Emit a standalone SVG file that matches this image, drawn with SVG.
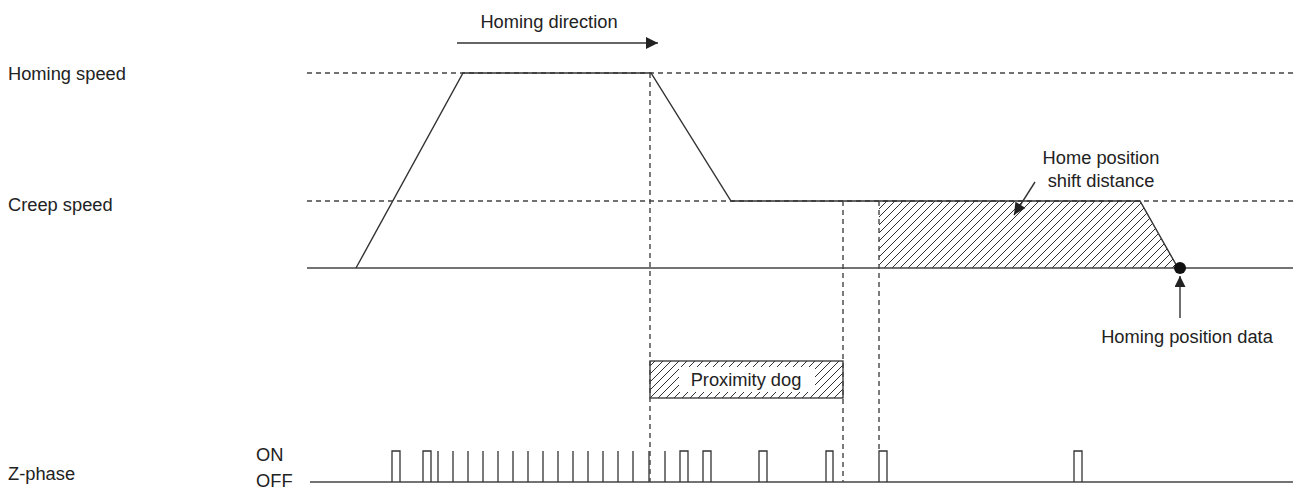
<svg xmlns="http://www.w3.org/2000/svg" width="1293" height="490" viewBox="0 0 1293 490">
<style>
text{font-family:"Liberation Sans",Arial,sans-serif;font-size:18.3px;fill:#222}
.ln{stroke:#333;stroke-width:1.4;fill:none}
.base{stroke:#444;stroke-width:1.6;fill:none}
.dash{stroke:#444;stroke-width:1.4;fill:none;stroke-dasharray:5 4}
.pulse{stroke:#333;stroke-width:1.3;fill:none}
</style>
<defs>
<pattern id="hatch" patternUnits="userSpaceOnUse" width="8" height="8">
<path d="M-2,2 L2,-2 M0,8 L8,0 M6,10 L10,6" stroke="#333" stroke-width="1"/>
</pattern>
<marker id="arr" viewBox="0 0 10 10" refX="10" refY="5" markerWidth="12" markerHeight="11" markerUnits="userSpaceOnUse" orient="auto">
<path d="M0,0 L10,5 L0,10 Z" fill="#222"/>
</marker>
<marker id="arr2" viewBox="0 0 10 10" refX="10" refY="5" markerWidth="14" markerHeight="12" markerUnits="userSpaceOnUse" orient="auto">
<path d="M0,0 L10,5 L0,10 Z" fill="#222"/>
</marker>
</defs>

<g id="labels">
<text x="8" y="80">Homing speed</text>
<text x="8" y="211">Creep speed</text>
<text x="8" y="480">Z-phase</text>
<text x="256" y="461">ON</text>
<text x="256" y="487">OFF</text>
</g>

<g id="homing-direction">
<text x="549" y="28" text-anchor="middle">Homing direction</text>
</g>

<g id="guides">
<line class="dash" x1="307" y1="73" x2="1293" y2="73"/>
<line class="dash" x1="307" y1="201" x2="1293" y2="201"/>
</g>

<g id="shift-area">
<polygon points="879,201 1140,201 1178,268 879,268" fill="url(#hatch)"/>
</g>

<g id="speed-profile">
<line class="base" x1="307" y1="268" x2="1293" y2="268"/>
<polyline class="ln" points="356,268 463,73 651,73 731,201 1140,201 1178,268"/>
<circle cx="1180" cy="268" r="6" fill="#111"/>
</g>

<g id="proximity-dog">
<rect x="650" y="361" width="193" height="37" fill="url(#hatch)" stroke="#333" stroke-width="1.3"/>
<rect x="679" y="367" width="136" height="25" fill="#fff"/>
<text x="746" y="386" text-anchor="middle">Proximity dog</text>
</g>

<g id="home-shift-label">
<text x="1101" y="164" text-anchor="middle">Home position</text>
<text x="1101" y="187" text-anchor="middle">shift distance</text>
</g>

<g id="homing-position-label">
<text x="1187" y="343" text-anchor="middle">Homing position data</text>
</g>

<g id="zphase">
<line class="base" x1="310" y1="482" x2="1293" y2="482"/>
<path class="pulse" d="M392,482 V451 H400 V482 M423,482 V451 H431 V482 M680,482 V451 H688 V482 M703,482 V451 H711 V482 M759,482 V451 H767 V482 M826,482 V451 H833 V482 M879,482 V451 H887 V482 M1074,482 V451 H1082 V482"/>
<path class="pulse" d="M438,482 V451 M453,482 V451 M468,482 V451 M483,482 V451 M498,482 V451 M513,482 V451 M528,482 V451 M543,482 V451 M558,482 V451 M573,482 V451 M588,482 V451 M603,482 V451 M618,482 V451 M633,482 V451 M649,482 V451 M665,482 V451"/>
</g>

<g id="connectors">
<line class="dash" x1="650" y1="73" x2="650" y2="482"/>
<line class="dash" x1="843" y1="201" x2="843" y2="482"/>
<line class="dash" x1="879" y1="201" x2="879" y2="451"/>
<line class="ln" x1="457" y1="43" x2="658" y2="43" marker-end="url(#arr2)"/>
<line class="ln" x1="1035" y1="182" x2="1014" y2="215" marker-end="url(#arr2)"/>
<line class="ln" x1="1180" y1="318" x2="1180" y2="276" marker-end="url(#arr)"/>
</g>
</svg>
